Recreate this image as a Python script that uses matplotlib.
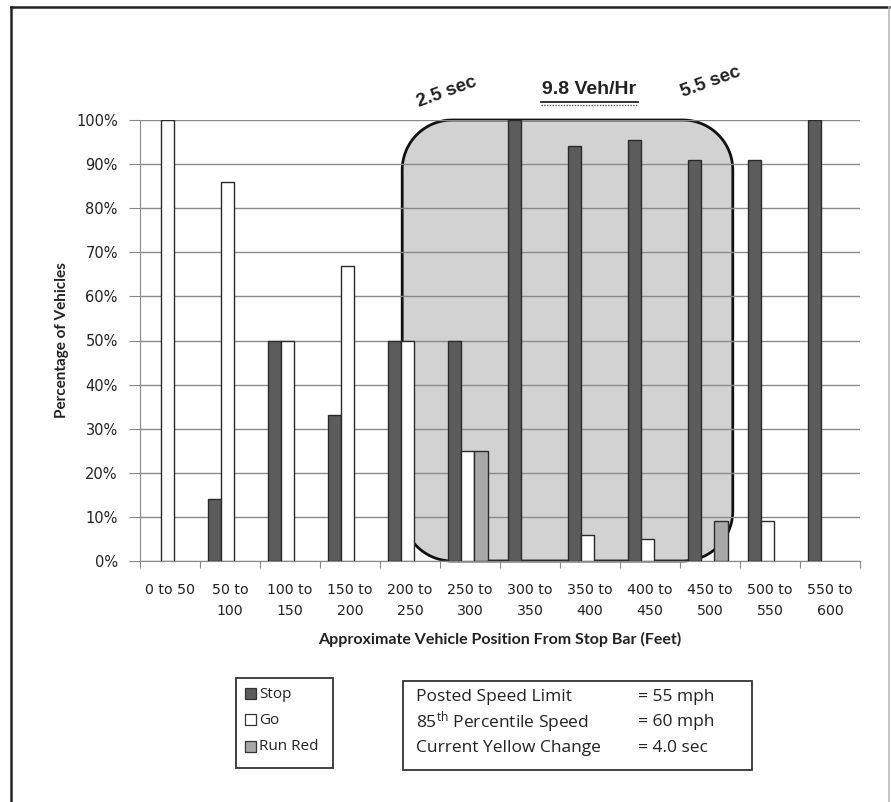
import matplotlib
matplotlib.use("Agg")
import matplotlib.pyplot as plt
from matplotlib.patches import Rectangle, PathPatch
from matplotlib.path import Path
from matplotlib.lines import Line2D
import numpy as np

plt.rcParams['font.family'] = ['DejaVu Sans']
plt.rcParams['mathtext.fontset'] = 'custom'
plt.rcParams['mathtext.rm'] = 'Open Sans'
plt.rcParams['mathtext.default'] = 'regular'

categories = ["0 to 50", "50 to\n100", "100 to\n150", "150 to\n200", "200 to\n250", "250 to\n300",
              "300 to\n350", "350 to\n400", "400 to\n450", "450 to\n500", "500 to\n550", "550 to\n600"]
stop = [0, 14, 50, 33, 50, 50, 100, 94, 95.5, 91, 91, 100]
go = [100, 86, 50, 67, 50, 25, 0, 6, 5, 0, 9, 0]
run_red = [0, 0, 0, 0, 0, 25, 0, 0, 0, 9, 0, 0]
series_names = ["Stop", "Go", "Run Red"]
yticks = [0, 10, 20, 30, 40, 50, 60, 70, 80, 90, 100]

W, H = 891, 802
fig = plt.figure(figsize=(W / 100, H / 100), dpi=100)
ax = fig.add_axes([140 / W, 1 - 561 / H, 720 / W, (561 - 120) / H])

x = np.arange(len(categories))
bw = 0.222
colors = ["#5c5c5c", "#ffffff", "#a8a8a8"]
for i, vals in enumerate([stop, go, run_red]):
    vals_arr = np.array(vals, dtype=float)
    mask = vals_arr > 0
    ax.bar(x[mask] + (i - 1) * bw - 0.04, vals_arr[mask], width=bw, color=colors[i],
           edgecolor="#2a2a2a", linewidth=1.0, zorder=3)

ax.set_xlim(-0.5, len(categories) - 0.5)
ax.set_ylim(0, 100)

# Highlight region (rounded box), corners as quarter ellipses in data units
x0, x1, y0, y1 = 3.87, 9.38, 0.0, 100.0
rx = 50 / 60.0          # ~50 px horizontally
ry = 50 / 4.41          # ~50 px vertically
pts = []
for a in np.linspace(np.pi, 1.5 * np.pi, 30):      # bottom-left
    pts.append((x0 + rx + rx * np.cos(a), y0 + ry + ry * np.sin(a)))
for a in np.linspace(1.5 * np.pi, 2 * np.pi, 30):  # bottom-right
    pts.append((x1 - rx + rx * np.cos(a), y0 + ry + ry * np.sin(a)))
for a in np.linspace(0, 0.5 * np.pi, 30):          # top-right
    pts.append((x1 - rx + rx * np.cos(a), y1 - ry + ry * np.sin(a)))
for a in np.linspace(0.5 * np.pi, np.pi, 30):      # top-left
    pts.append((x0 + rx + rx * np.cos(a), y1 - ry + ry * np.sin(a)))
pts.append(pts[0])
box = PathPatch(Path(pts, closed=True), facecolor="#d2d2d2", edgecolor="#111111",
                linewidth=2.0, zorder=1, clip_on=False)
ax.add_patch(box)

ax.set_yticks(yticks)
ax.set_yticklabels([f"{v}%" for v in yticks], fontsize=10.5, color="#222222")
ax.yaxis.grid(True, color="#8a8a8a", linewidth=1.0)
for gl in ax.get_ygridlines():
    gl.set_zorder(2)

ax.set_xticks(np.arange(len(categories) + 1) - 0.5, minor=False)
ax.set_xticklabels([])
ax.set_xticks(x, minor=True)
ax.set_xticklabels(categories, minor=True, fontsize=10.2, color="#222222", linespacing=1.6)
ax.tick_params(axis="x", which="minor", length=0, pad=16)
ax.tick_params(axis="x", which="major", length=5, color="#888888", direction="out")
ax.tick_params(axis="y", length=8, color="#888888", direction="out", pad=8)

for s in ["top", "right"]:
    ax.spines[s].set_visible(False)
ax.spines["left"].set_color("#888888")
ax.spines["bottom"].set_color("#888888")
ax.spines["left"].set_zorder(2.5)
ax.spines["bottom"].set_zorder(2.5)

ax.set_ylabel("Percentage of Vehicles", fontsize=11, fontweight="bold",
              family="Lato", labelpad=5, color="#222222")
ax.set_xlabel("Approximate Vehicle Position From Stop Bar (Feet)", fontsize=11.5,
              fontweight="bold", family="Lato", labelpad=10, color="#222222")

def fx(px):
    return px / W

def fy(py):
    return 1 - py / H

# Top annotations
fig.text(fx(447), fy(92), "2.5 sec", fontsize=13.5, rotation=20, ha="center", va="center",
         family="Liberation Sans", fontweight="bold", color="#222222")
fig.text(fx(711), fy(82), "5.5 sec", fontsize=13.5, rotation=20, ha="center", va="center",
         family="Liberation Sans", fontweight="bold", color="#222222")
fig.text(fx(589), fy(90), "9.8 Veh/Hr", fontsize=14, ha="center", va="center",
         family="Liberation Sans", fontweight="bold", color="#222222")
fig.add_artist(Line2D([fx(541), fx(638)], [fy(102), fy(102)], color="#222222", linewidth=1.3))
fig.add_artist(Line2D([fx(541), fx(638)], [fy(105), fy(105)], color="#555555", linewidth=1.0,
                      linestyle=(0, (1, 1))))

# Legend box
fig.add_artist(Rectangle((fx(236), fy(768)), (333 - 236) / W, (768 - 678) / H,
                         fill=False, edgecolor="#333333", linewidth=1.3))
leg_y = [694, 720, 747]
for name, col, yy in zip(series_names, colors, leg_y):
    fig.add_artist(Rectangle((fx(245), fy(yy + 5)), 11 / W, 11 / H, facecolor=col,
                             edgecolor="#333333", linewidth=0.9))
    fig.text(fx(259), fy(yy), name, fontsize=11, family="Open Sans", va="center",
             ha="left", color="#222222")

# Info box
fig.add_artist(Rectangle((fx(403), fy(770)), (752 - 403) / W, (770 - 681) / H,
                         fill=False, edgecolor="#333333", linewidth=1.3))
info_left = ["Posted Speed Limit", "85$^{th}$ Percentile Speed", "Current Yellow Change"]
info_right = ["= 55 mph", "= 60 mph", "= 4.0 sec"]
info_y = [697, 722, 748]
for l, rr, yy in zip(info_left, info_right, info_y):
    fig.text(fx(416), fy(yy), l, fontsize=12.5, family="Open Sans", va="center", ha="left",
             color="#222222")
    fig.text(fx(638), fy(yy), rr, fontsize=12.5, family="Open Sans", va="center", ha="left",
             color="#222222")

# Outer frame
fig.add_artist(Line2D([fx(11), fx(11)], [0, fy(7)], color="#222222", linewidth=1.8))
fig.add_artist(Line2D([fx(11), fx(889)], [fy(7), fy(7)], color="#222222", linewidth=1.8))
fig.add_artist(Line2D([fx(889), fx(889)], [fy(7), 0], color="#bbbbbb", linewidth=1.2))

fig.savefig("out.png", dpi=100)
